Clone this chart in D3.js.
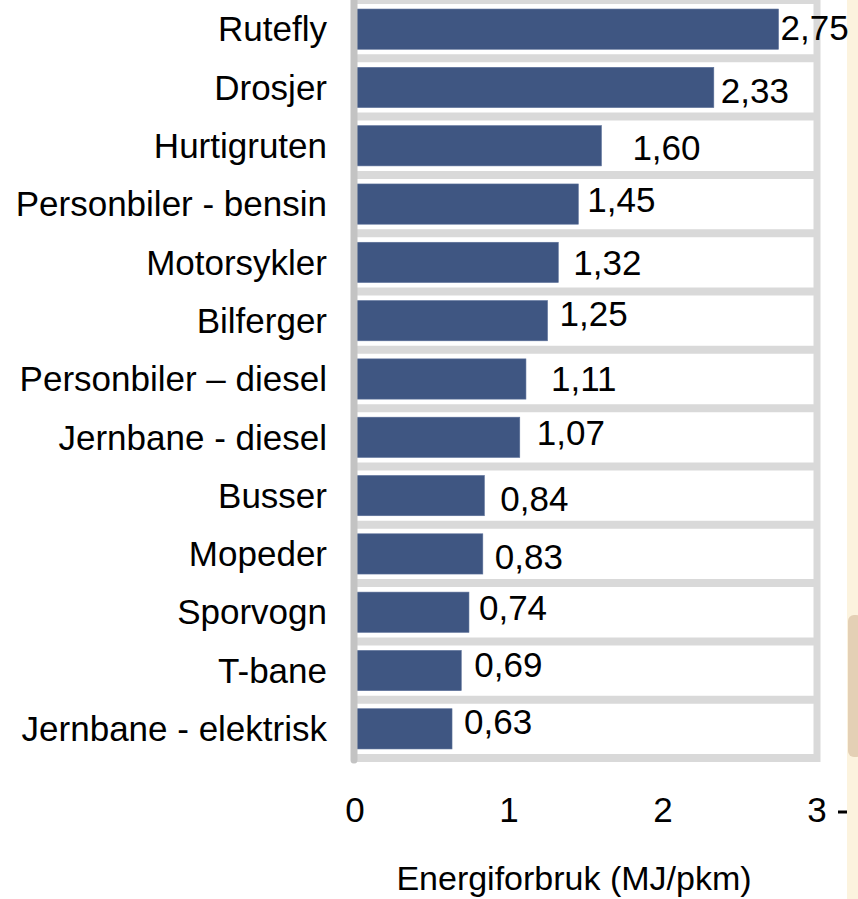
<!DOCTYPE html>
<html>
<head>
<meta charset="utf-8">
<script src="https://cdn.jsdelivr.net/npm/d3@7"></script>
<style>
  body { margin: 0; background: #fff; }
  svg text { font-family: "Liberation Sans", Arial, sans-serif; fill: #000; }
</style>
</head>
<body>
<svg id="chart" width="858" height="899"></svg>
<script>
// Energiforbruk per personkilometer
const categories = ['Rutefly', 'Drosjer', 'Hurtigruten', 'Personbiler - bensin', 'Motorsykler',
  'Bilferger', 'Personbiler \u2013 diesel', 'Jernbane - diesel', 'Busser', 'Mopeder',
  'Sporvogn', 'T-bane', 'Jernbane - elektrisk'];
const values = [2.75, 2.33, 1.60, 1.45, 1.32, 1.25, 1.11, 1.07, 0.84, 0.83, 0.74, 0.69, 0.63];
const xTicks = [0, 1, 2, 3];
const axisTitle = 'Energiforbruk (MJ/pkm)';

// label nudges as placed in the original (px from bar end / bar middle)
const labelDx = [2, 7, 31, 9, 15, 12, 25, 17, 16, 12, 10, 13, 12];
const labelDy = [-1, 3, 2, -4, 0, -7, 0, -5, 3, 3, -4, -6, -7];

const svg = d3.select('#chart');
const fmt = d3.formatLocale({ decimal: ',', thousands: ' ', grouping: [3], currency: ['', ''] }).format('.2f');

const plotLeft = 355, plotRight = 817, plotTop = 0, plotBottom = 758;
const fontSize = 35;

const x = d3.scaleLinear().domain([0, 3]).range([plotLeft, plotRight]);
const y = d3.scaleBand().domain(categories).range([plotTop, plotBottom]).paddingInner(0.31).paddingOuter(0.155);

// slide background strip on the right
svg.append('rect').attr('x', 847).attr('y', 0).attr('width', 11).attr('height', 899).attr('fill', '#fcf3de');
svg.append('rect').attr('x', 848).attr('y', 615).attr('width', 14).attr('height', 142)
  .attr('rx', 6).attr('fill', '#e4d0b5');

// row separators
const bounds = d3.range(categories.length + 1).map(i => plotTop + i * y.step());
svg.append('g').selectAll('line').data(bounds).join('line')
  .attr('x1', plotLeft).attr('x2', plotRight + 3)
  .attr('y1', d => d).attr('y2', d => d)
  .attr('stroke', '#d9d9d9').attr('stroke-width', 8);

// right border
svg.append('line').attr('x1', plotRight).attr('x2', plotRight).attr('y1', plotTop).attr('y2', plotBottom + 4)
  .attr('stroke', '#d9d9d9').attr('stroke-width', 7);

// bars
svg.append('g').selectAll('rect').data(values).join('rect')
  .attr('x', x(0))
  .attr('y', (d, i) => y(categories[i]))
  .attr('width', d => x(d) - x(0))
  .attr('height', y.bandwidth())
  .attr('fill', '#3f5682')
  .attr('stroke', '#5a6f98').attr('stroke-width', 0.6);

// left axis line
svg.append('line').attr('x1', plotLeft - 1).attr('x2', plotLeft - 1).attr('y1', plotTop).attr('y2', plotBottom + 2)
  .attr('stroke', '#c3c3c3').attr('stroke-width', 7).attr('stroke-linecap', 'round');

// category labels
svg.append('g').selectAll('text').data(categories).join('text')
  .attr('x', 327)
  .attr('y', d => y(d) + y.bandwidth() / 2)
  .attr('dy', '0.35em')
  .attr('text-anchor', 'end')
  .attr('font-size', fontSize)
  .text(d => d);

// value labels
svg.append('g').selectAll('text').data(values).join('text')
  .attr('x', (d, i) => x(d) + labelDx[i])
  .attr('y', (d, i) => y(categories[i]) + y.bandwidth() / 2 + labelDy[i])
  .attr('dy', '0.35em')
  .attr('font-size', fontSize)
  .text(d => fmt(d));

// x tick labels
svg.append('g').selectAll('text').data(xTicks).join('text')
  .attr('x', d => x(d))
  .attr('y', 822)
  .attr('text-anchor', 'middle')
  .attr('font-size', fontSize)
  .text(d => d);
svg.append('line').attr('x1', 838).attr('x2', 847).attr('y1', 812).attr('y2', 812)
  .attr('stroke', '#000').attr('stroke-width', 3);

// axis title
svg.append('text')
  .attr('x', 574).attr('y', 890)
  .attr('text-anchor', 'middle')
  .attr('font-size', 34)
  .text(axisTitle);
</script>
</body>
</html>
